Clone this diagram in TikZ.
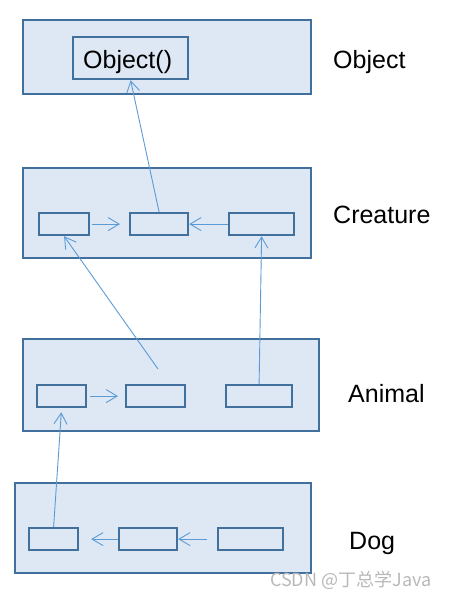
\documentclass[tikz,border=0pt]{standalone}
\usepackage{fontspec}
\setmainfont{Liberation Sans}
\newfontfamily\cjk{Noto Sans CJK SC}
\usetikzlibrary{arrows.meta}
\definecolor{boxfill}{HTML}{DEE8F5}
\definecolor{boxline}{HTML}{41709C}
\definecolor{arrline}{HTML}{5B9BD5}
\tikzset{
  outerbox/.style={draw=boxline, fill=boxfill, line width=2.2pt, anchor=north west, inner sep=0pt},
  innerbox/.style={draw=boxline, fill=boxfill, line width=2.2pt, anchor=north west, inner sep=0pt},
  arr/.style={draw=arrline, line width=0.9pt, -{Straight Barb[length=11pt,width=13pt,line width=0.9pt]}},
  lbl/.style={anchor=base west, inner sep=0pt, font=\fontsize{25}{29}\selectfont},
}
\begin{document}
\begin{tikzpicture}[x=1pt,y=-1pt]
\useasboundingbox (0,0) rectangle (449,598);
% Object
\node[outerbox, minimum width=288pt, minimum height=74pt] (objbox) at (22,19) {};
\node[innerbox, minimum width=115pt, minimum height=42pt] (objm) at (72,36) {};
\node[lbl] (objtxt) at (83,68) {Object()};
\node[lbl] (objlbl) at (333,68) {Object};
% Creature
\node[outerbox, minimum width=288pt, minimum height=90pt] (crbox) at (22,167) {};
\node[innerbox, minimum width=50pt, minimum height=22pt] (cA) at (38,212) {};
\node[innerbox, minimum width=58pt, minimum height=22pt] (cB) at (129,212) {};
\node[innerbox, minimum width=65pt, minimum height=22pt] (cC) at (228,212) {};
\node[lbl] (crlbl) at (333,223) {Creature};
% Animal
\node[outerbox, minimum width=296pt, minimum height=92pt] (anbox) at (22,338) {};
\node[innerbox, minimum width=49pt, minimum height=22pt] (aA) at (36,384) {};
\node[innerbox, minimum width=59pt, minimum height=22pt] (aB) at (125,384) {};
\node[innerbox, minimum width=66pt, minimum height=22pt] (aC) at (225,384) {};
\node[lbl] (anlbl) at (348,402) {Animal};
\coordinate (anfree) at (158,369);
% Dog
\node[outerbox, minimum width=296pt, minimum height=90pt] (dogbox) at (14,482) {};
\node[innerbox, minimum width=49pt, minimum height=22pt] (dA) at (28,527) {};
\node[innerbox, minimum width=58pt, minimum height=22pt] (dB) at (118,527) {};
\node[innerbox, minimum width=65pt, minimum height=22pt] (dC) at (217,527) {};
\node[lbl] (doglbl) at (349,549) {Dog};
% watermark
\node[anchor=base west, inner sep=0pt, text=black!28, font=\cjk\fontsize{18}{20}\selectfont] (wm) at (270,586) {CSDN @丁总学Java};
% connectors
\draw[arr] (cB.north) -- (objm.south);
\draw[arr, shorten <=2pt, shorten >=9pt] (cA.east) -- (cB.west);
\draw[arr] (cC.west) -- (cB.east);
\draw[arr] (anfree) -- (cA.south);
\draw[arr] (aC.north) -- (cC.south);
\draw[arr, shorten <=3pt, shorten >=7pt] (aA.east) -- (aB.west);
\draw[arr, shorten >=4pt] (dA.north) -- (aA.south);
\draw[arr, shorten >=12pt] (dB.west) -- (dA.east);
\draw[arr, shorten <=10pt] (dC.west) -- (dB.east);
\end{tikzpicture}
\end{document}
